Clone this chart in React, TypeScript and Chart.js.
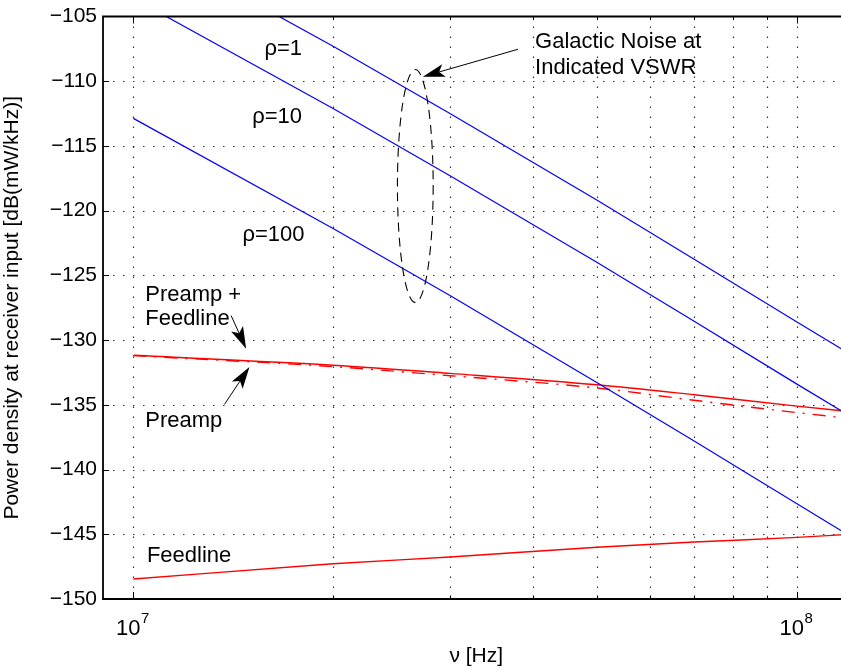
import { useEffect, useRef } from 'react';
import { Chart, registerables } from 'chart.js';

Chart.register(...registerables);

// ---- Data ----
const FREQS = [1e7, 2e7, 3e7, 5e7, 7e7, 1e8, 1.2e8];
const RHO1 = [-98.8, -107.3, -112.5, -119.2, -123.75, -128.6, -131.05];
const RHO10 = [-103.6, -112.1, -117.3, -124.0, -128.55, -133.4, -135.85];
const RHO100 = [-112.87, -121.38, -126.55, -133.29, -137.8, -142.64, -145.11];
const PREAMP_FEEDLINE = [-131.17, -131.94, -132.57, -133.45, -134.22, -135.1, -135.52];
const PREAMP = [-131.2, -132.05, -132.75, -133.7, -134.65, -135.6, -136.05];
const FEEDLINE = [-148.46, -147.28, -146.75, -146.0, -145.6, -145.24, -145.0];

const X_MIN = 9e6;
const X_MAX = 1.2e8;
const Y_MIN = -150;
const Y_MAX = -105;
const Y_STEP = 5;
const X_GRID = [1e7, 2e7, 3e7, 4e7, 5e7, 6e7, 7e7, 8e7, 9e7, 1e8];
const X_MAJOR = [1e7, 1e8];
const X_MAJOR_EXP = ['7', '8'];
const Y_GRID = [-145, -140, -135, -130, -125, -120, -115, -110];

const X_TITLE = 'ν [Hz]';
const Y_TITLE = 'Power density at receiver input [dB(mW/kHz)]';

const LABEL_TEXTS = ['ρ=1', 'ρ=10', 'ρ=100', 'Preamp +', 'Feedline', 'Preamp', 'Feedline', 'Galactic Noise at', 'Indicated VSWR'];
const LABEL_X = [1.576e7, 1.51e7, 1.46e7, 1.042e7, 1.042e7, 1.042e7, 1.048e7, 4.03e7, 4.03e7];
const LABEL_Y = [-107.99, -113.23, -122.35, -126.96, -128.87, -136.73, -147.15, -107.4, -109.45];

const ARROW_FROM_X = [3.8e7, 1.404e7, 1.372e7];
const ARROW_FROM_Y = [-107.53, -128.11, -134.96];
const ARROW_TO_X = [2.73e7, 1.479e7, 1.496e7];
const ARROW_TO_Y = [-109.65, -130.67, -132.07];

const ELLIPSE_X = [2.5e7, 2.83e7];
const ELLIPSE_Y = [-109.1, -127.1];

const FONT = '"Liberation Sans", Arial, Helvetica, sans-serif';
const BLUE = '#0000ff';
const RED = '#ff0000';

function drawArrow(ctx: CanvasRenderingContext2D, x1: number, y1: number, x2: number, y2: number) {
  const ang = Math.atan2(y2 - y1, x2 - x1);
  const dx = Math.cos(ang), dy = Math.sin(ang);
  const L = 22, W = 6.5, N = 5;
  const bx = x2 - L * dx, by = y2 - L * dy;
  const nx = x2 - (L - N) * dx, ny = y2 - (L - N) * dy;
  ctx.save();
  ctx.setLineDash([]);
  ctx.strokeStyle = '#000';
  ctx.fillStyle = '#000';
  ctx.lineWidth = 1;
  ctx.beginPath();
  ctx.moveTo(x1, y1);
  ctx.lineTo(nx, ny);
  ctx.stroke();
  ctx.beginPath();
  ctx.moveTo(x2, y2);
  ctx.lineTo(bx - W * dy, by + W * dx);
  ctx.lineTo(nx, ny);
  ctx.lineTo(bx + W * dy, by - W * dx);
  ctx.closePath();
  ctx.fill();
  ctx.restore();
}

export default function App() {
  const ref = useRef<HTMLCanvasElement>(null);

  useEffect(() => {
    const canvas = ref.current;
    if (!canvas) return;
    const pts = (ys: number[]) => FREQS.map((f, i) => ({ x: f, y: ys[i] }));

    const overlay = {
      id: 'overlay',
      beforeDatasetsDraw(chart: any) {
        const { ctx, chartArea: ca, scales } = chart;
        const xs = scales.x, ys = scales.y;
        ctx.save();
        ctx.strokeStyle = '#333';
        ctx.lineWidth = 1.2;
        ctx.setLineDash([1.5, 8.5]);
        for (const v of Y_GRID) {
          const y = Math.round(ys.getPixelForValue(v)) + 0.5;
          ctx.beginPath();
          ctx.moveTo(ca.left, y);
          ctx.lineTo(ca.right, y);
          ctx.stroke();
        }
        for (const f of X_GRID) {
          const x = Math.round(xs.getPixelForValue(f)) + 0.5;
          ctx.beginPath();
          ctx.moveTo(x, ca.top);
          ctx.lineTo(x, ca.bottom);
          ctx.stroke();
        }
        ctx.restore();
      },
      afterDraw(chart: any) {
        const { ctx, chartArea: ca, scales } = chart;
        const xs = scales.x, ys = scales.y;
        ctx.save();

        // ellipse
        const ex1 = xs.getPixelForValue(ELLIPSE_X[0]);
        const ex2 = xs.getPixelForValue(ELLIPSE_X[1]);
        const ey1 = ys.getPixelForValue(ELLIPSE_Y[0]);
        const ey2 = ys.getPixelForValue(ELLIPSE_Y[1]);
        ctx.strokeStyle = '#000';
        ctx.lineWidth = 1.1;
        ctx.setLineDash([9, 6]);
        ctx.beginPath();
        ctx.ellipse((ex1 + ex2) / 2, (ey1 + ey2) / 2, Math.abs(ex2 - ex1) / 2, Math.abs(ey2 - ey1) / 2, 0, 0, Math.PI * 2);
        ctx.stroke();
        ctx.setLineDash([]);

        // arrows
        for (let i = 0; i < ARROW_FROM_X.length; i++) {
          drawArrow(
            ctx,
            xs.getPixelForValue(ARROW_FROM_X[i]),
            ys.getPixelForValue(ARROW_FROM_Y[i]),
            xs.getPixelForValue(ARROW_TO_X[i]),
            ys.getPixelForValue(ARROW_TO_Y[i])
          );
        }

        // labels
        ctx.fillStyle = '#000';
        ctx.font = `22px ${FONT}`;
        ctx.textAlign = 'left';
        ctx.textBaseline = 'alphabetic';
        for (let i = 0; i < LABEL_TEXTS.length; i++) {
          ctx.fillText(LABEL_TEXTS[i], xs.getPixelForValue(LABEL_X[i]), ys.getPixelForValue(LABEL_Y[i]));
        }

        // frame
        ctx.strokeStyle = '#000';
        ctx.lineWidth = 1.8;
        ctx.beginPath();
        ctx.moveTo(ca.right + 5, ca.top);
        ctx.lineTo(ca.left, ca.top);
        ctx.lineTo(ca.left, ca.bottom);
        ctx.lineTo(ca.right + 5, ca.bottom);
        ctx.stroke();

        // ticks
        ctx.lineWidth = 1;
        for (const v of Y_GRID) {
          const y = Math.round(ys.getPixelForValue(v)) + 0.5;
          ctx.beginPath();
          ctx.moveTo(ca.left, y);
          ctx.lineTo(ca.left + 6, y);
          ctx.stroke();
        }
        for (const f of X_GRID) {
          const x = Math.round(xs.getPixelForValue(f)) + 0.5;
          const len = X_MAJOR.includes(f) ? 7 : 3.5;
          ctx.beginPath();
          ctx.moveTo(x, ca.bottom);
          ctx.lineTo(x, ca.bottom - len);
          ctx.moveTo(x, ca.top);
          ctx.lineTo(x, ca.top + len);
          ctx.stroke();
        }

        // x tick labels (10^n)
        ctx.fillStyle = '#000';
        for (let i = 0; i < X_MAJOR.length; i++) {
          const px = xs.getPixelForValue(X_MAJOR[i]);
          ctx.font = `22px ${FONT}`;
          const w1 = ctx.measureText('10').width;
          ctx.font = `15px ${FONT}`;
          const w2 = ctx.measureText(X_MAJOR_EXP[i]).width;
          const start = px - (w1 + w2) / 2 - 1;
          ctx.font = `22px ${FONT}`;
          ctx.textAlign = 'left';
          ctx.fillText('10', start, 635);
          ctx.font = `15px ${FONT}`;
          ctx.fillText(X_MAJOR_EXP[i], start + w1 + 0.5, 623);
        }

        // axis titles
        ctx.font = `21px ${FONT}`;
        ctx.textAlign = 'center';
        ctx.fillText(X_TITLE, (ca.left + ca.right) / 2, 662);
        ctx.save();
        ctx.translate(18, (ca.top + ca.bottom) / 2);
        ctx.rotate(-Math.PI / 2);
        ctx.fillText(Y_TITLE, 0, 0);
        ctx.restore();

        ctx.restore();
      },
    };

    const chart = new Chart(canvas, {
      type: 'line',
      data: {
        datasets: [
          { label: 'rho=1', data: pts(RHO1), borderColor: BLUE, borderWidth: 1.2, pointRadius: 0 },
          { label: 'rho=10', data: pts(RHO10), borderColor: BLUE, borderWidth: 1.2, pointRadius: 0 },
          { label: 'rho=100', data: pts(RHO100), borderColor: BLUE, borderWidth: 1.2, pointRadius: 0 },
          { label: 'Preamp', data: pts(PREAMP), borderColor: RED, borderWidth: 1.4, pointRadius: 0, borderDash: [13, 8, 2, 8], cubicInterpolationMode: 'monotone' },
          { label: 'Preamp + Feedline', data: pts(PREAMP_FEEDLINE), borderColor: RED, borderWidth: 1.4, pointRadius: 0, cubicInterpolationMode: 'monotone' },
          { label: 'Feedline', data: pts(FEEDLINE), borderColor: RED, borderWidth: 1.4, pointRadius: 0, cubicInterpolationMode: 'monotone' },
        ],
      },
      options: {
        responsive: false,
        animation: false,
        devicePixelRatio: 1,
        layout: { padding: { top: 12, right: 20.5, bottom: 0, left: 0 } },
        plugins: { legend: { display: false }, tooltip: { enabled: false } },
        events: [],
        scales: {
          x: {
            type: 'logarithmic',
            min: X_MIN,
            max: X_MAX,
            grid: { display: false },
            border: { display: false },
            ticks: { display: false },
            afterFit: (s: any) => { s.height = 72; },
          },
          y: {
            type: 'linear',
            min: Y_MIN,
            max: Y_MAX,
            grid: { display: false, drawTicks: false },
            border: { display: false },
            ticks: {
              stepSize: Y_STEP,
              padding: 6,
              color: '#000',
              font: { family: FONT, size: 21, lineHeight: 1 },
              callback: (v: any) => '\u2212' + Math.abs(Number(v)),
            },
            afterFit: (s: any) => { s.width = 103; },
          },
        },
      } as any,
      plugins: [overlay],
    });
    return () => chart.destroy();
  }, []);

  return (
    <div style={{ position: 'fixed', left: 0, top: 0, width: 841, height: 671, overflow: 'hidden', background: '#fff' }}>
      <canvas ref={ref} width={870} height={671} style={{ display: 'block', width: 870, height: 671 }} />
    </div>
  );
}
